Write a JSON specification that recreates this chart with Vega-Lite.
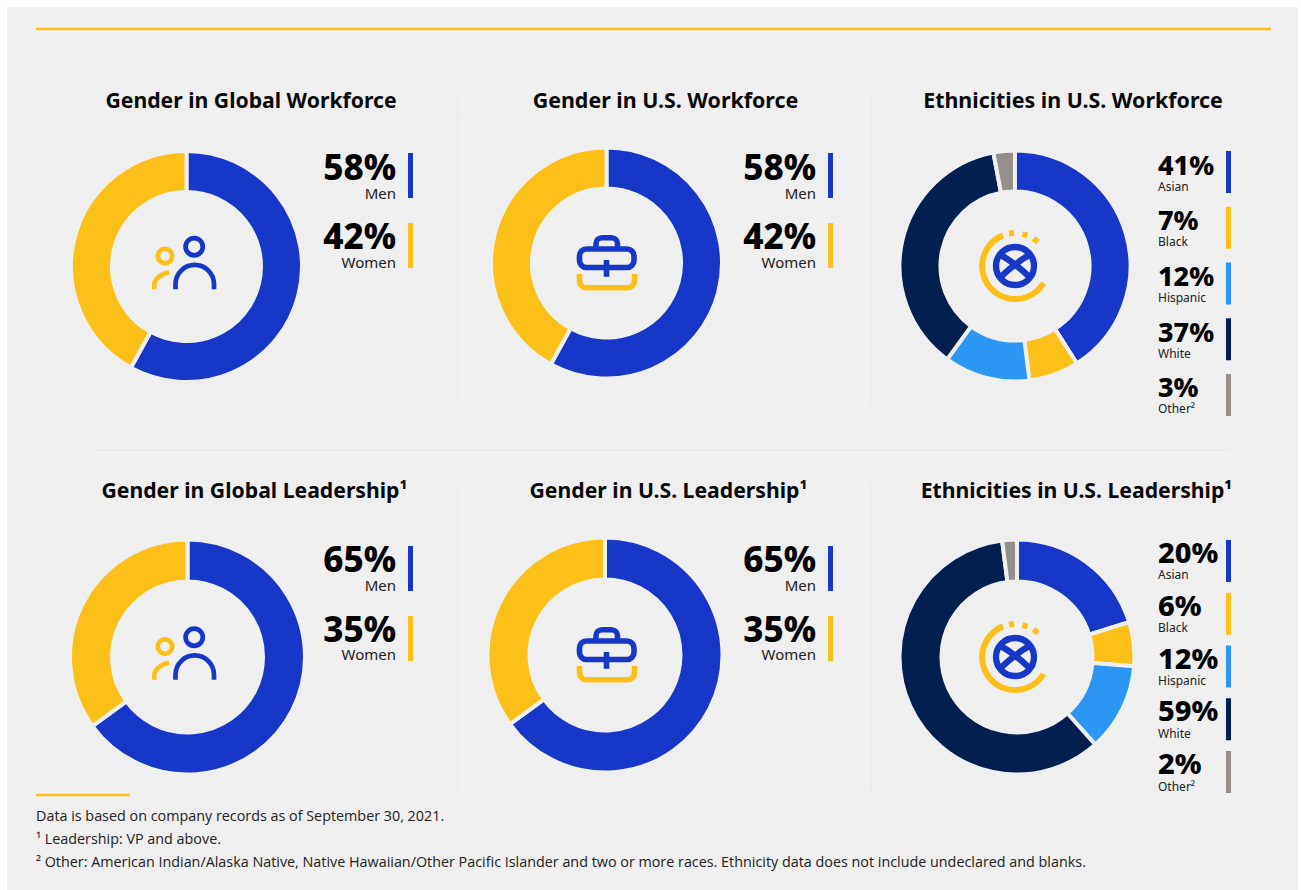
{"$schema":"https://vega.github.io/schema/vega-lite/v6.json","background":"#efefef","padding":0,"config":{"view":{"fill":null,"stroke":null},"text":{"font":"Noto Sans"}},
"datasets":{"slices":[
{"group":"gw","label":"Men","value":58,"pct":"58%","order":1},{"group":"gw","label":"Women","value":42,"pct":"42%","order":2},
{"group":"uw","label":"Men","value":58,"pct":"58%","order":1},{"group":"uw","label":"Women","value":42,"pct":"42%","order":2},
{"group":"ew","label":"Asian","value":41,"pct":"41%","order":1},{"group":"ew","label":"Black","value":7,"pct":"7%","order":2},{"group":"ew","label":"Hispanic","value":12,"pct":"12%","order":3},{"group":"ew","label":"White","value":37,"pct":"37%","order":4},{"group":"ew","label":"Other²","value":3,"pct":"3%","order":5},
{"group":"gl","label":"Men","value":65,"pct":"65%","order":1},{"group":"gl","label":"Women","value":35,"pct":"35%","order":2},
{"group":"ul","label":"Men","value":65,"pct":"65%","order":1},{"group":"ul","label":"Women","value":35,"pct":"35%","order":2},
{"group":"el","label":"Asian","value":20,"pct":"20%","order":1},{"group":"el","label":"Black","value":6,"pct":"6%","order":2},{"group":"el","label":"Hispanic","value":12,"pct":"12%","order":3},{"group":"el","label":"White","value":59,"pct":"59%","order":4},{"group":"el","label":"Other²","value":2,"pct":"2%","order":5}
],
"notes":[{"line":"a","note":"Data is based on company records as of September 30, 2021."},{"line":"b","note":"¹ Leadership: VP and above."},{"line":"c","note":"² Other: American Indian/Alaska Native, Native Hawaiian/Other Pacific Islander and two or more races. Ethnicity data does not include undeclared and blanks."}]},
"spacing":0,
"hconcat":[
{"width":7,"height":890,"data":{"values":[{}]},"mark":{"type":"rect","color":"#ffffff"},"encoding":{"x":{"datum":0,"type":"quantitative","axis":null,"scale":{"domain":[0,1]}},"x2":{"datum":1},"y":{"datum":0,"type":"quantitative","axis":null,"scale":{"domain":[0,1]}},"y2":{"datum":1}}},
{"spacing":0,"vconcat":[
{"width":1291,"height":7,"data":{"values":[{}]},"mark":{"type":"rect","color":"#ffffff"},"encoding":{"x":{"datum":0,"type":"quantitative","axis":null,"scale":{"domain":[0,1]}},"x2":{"datum":1},"y":{"datum":0,"type":"quantitative","axis":null,"scale":{"domain":[0,1]}},"y2":{"datum":1}}},
{"width":1291,"height":44,"data":{"values":[{}]},"mark":{"type":"rule","color":"#fdc018","strokeWidth":2.5},"encoding":{"x":{"datum":36,"type":"quantitative","axis":null,"scale":{"domain":[7,1298]}},"x2":{"datum":1271}}},
{"hconcat":[
{"width":452,"height":65,"layer":[{"data":{"values":[{"title":"Gender in Global Workforce"}]},"mark":{"type":"text","fontSize":21.2,"fontWeight":700,"color":"#0a0a0a","dx":18,"dy":18.5},"encoding":{"text":{"field":"title"}}},{"data":{"values":[{}]},"mark":{"type":"rule","color":"#e6e6e6"},"encoding":{"x":{"datum":0.998,"type":"quantitative","axis":null,"scale":{"domain":[0,1]}},"y":{"datum":92,"type":"quantitative","axis":null,"scale":{"domain":[51,116],"reverse":true}},"y2":{"datum":116}}}]},
{"width":413,"height":65,"layer":[{"data":{"values":[{"title":"Gender in U.S. Workforce"}]},"mark":{"type":"text","fontSize":21.4,"fontWeight":700,"color":"#0a0a0a","dx":0,"dy":18.5},"encoding":{"text":{"field":"title"}}},{"data":{"values":[{}]},"mark":{"type":"rule","color":"#e6e6e6"},"encoding":{"x":{"datum":0.998,"type":"quantitative","axis":null,"scale":{"domain":[0,1]}},"y":{"datum":92,"type":"quantitative","axis":null,"scale":{"domain":[51,116],"reverse":true}},"y2":{"datum":116}}}]},
{"width":426,"height":65,"data":{"values":[{"title":"Ethnicities in U.S. Workforce"}]},"mark":{"type":"text","fontSize":21.4,"fontWeight":700,"color":"#0a0a0a","dx":-12,"dy":18.5},"encoding":{"text":{"field":"title"}}}
],"spacing":0,"bounds":"flush"},
{"hconcat":[
{"width":359,"height":298,"layer":[
{"data":{"name":"slices"},"transform":[{"filter":"datum.group=='gw'"}],"mark":{"type":"arc","outerRadius":115.5,"innerRadius":74.5,"stroke":"#efefef","strokeWidth":4,"yOffset":-0.5},"encoding":{"theta":{"field":"value","type":"quantitative","stack":true},"order":{"field":"order"},"color":{"field":"label","type":"nominal","legend":null,"scale":{"domain":["Men","Women","Asian","Black","Hispanic","White","Other²"],"range":["#1737c9","#fdc018","#1737c9","#fdc018","#2c96f4","#031f4f","#958f8c"]}}}},
{"data":{"values":[{}]},"mark":{"type":"point","shape":"M-11,22.8V17.7A19.25,19.25 0 0 1 27.5,17.7V22.8M-0.9,-19.8A8.6,8.6 0 1 1 16.3,-19.8A8.6,8.6 0 1 1 -0.9,-19.8","size":4,"filled":false,"opacity":1,"stroke":"#1737c9","strokeWidth":4.7,"yOffset":-0.5},"encoding":{}},
{"data":{"values":[{}]},"mark":{"type":"point","shape":"M-32.3,22.8V19C-32.3,12 -25,7 -17.2,5.8M-28.7,-10.5A7.2,7.2 0 1 1 -14.3,-10.5A7.2,7.2 0 1 1 -28.7,-10.5","size":4,"filled":false,"opacity":1,"stroke":"#fdc018","strokeWidth":4.7,"yOffset":-0.5},"encoding":{}}
]},
{"width":42,"height":298,"data":{"name":"slices"},"transform":[{"filter":"datum.group=='gw'"}],"layer":[
{"mark":{"type":"text","align":"right","fontSize":35,"fontWeight":800,"color":"#000000","dx":9,"dy":-7},"encoding":{"y":{"field":"label","type":"nominal","axis":null,"sort":null,"scale":{"type":"band","range":[35,150],"paddingInner":0.357,"paddingOuter":0}},"text":{"field":"pct"}}},
{"mark":{"type":"text","align":"right","fontSize":15,"color":"#222222","dx":9,"dy":18},"encoding":{"y":{"field":"label","type":"nominal","axis":null,"sort":null,"scale":{"type":"band","range":[35,150],"paddingInner":0.357,"paddingOuter":0}},"text":{"field":"label"}}}
]},
{"width":5,"height":298,"data":{"name":"slices"},"transform":[{"filter":"datum.group=='gw'"}],"mark":"bar","encoding":{"y":{"field":"label","type":"nominal","axis":null,"sort":null,"scale":{"range":[35,150],"paddingInner":0.357,"paddingOuter":0}},"color":{"field":"label","type":"nominal","legend":null,"scale":{"domain":["Men","Women","Asian","Black","Hispanic","White","Other²"],"range":["#1737c9","#fdc018","#1737c9","#fdc018","#2c96f4","#031f4f","#958f8c"]}}}},
{"width":46,"height":298,"data":{"values":[{}]},"mark":{"type":"rule","color":"#e6e6e6"},"encoding":{"x":{"datum":0.978,"type":"quantitative","axis":null,"scale":{"domain":[0,1]}},"y":{"datum":118,"type":"quantitative","axis":null,"scale":{"domain":[118,416],"reverse":true}},"y2":{"datum":405}}},
{"width":295,"height":298,"layer":[
{"data":{"name":"slices"},"transform":[{"filter":"datum.group=='uw'"}],"mark":{"type":"arc","outerRadius":115.5,"innerRadius":74.5,"stroke":"#efefef","strokeWidth":4,"yOffset":-4},"encoding":{"theta":{"field":"value","type":"quantitative","stack":true},"order":{"field":"order"},"color":{"field":"label","type":"nominal","legend":null,"scale":{"domain":["Men","Women","Asian","Black","Hispanic","White","Other²"],"range":["#1737c9","#fdc018","#1737c9","#fdc018","#2c96f4","#031f4f","#958f8c"]}}}},
{"data":{"values":[{}]},"mark":{"type":"point","shape":"M-20,-14H20.5A7,7 0 0 1 27.5,-7V-2.5A7,7 0 0 1 20.5,4.5H-20A7,7 0 0 1 -27,-2.5V-7A7,7 0 0 1 -20,-14ZM-10.5,-14V-19.3A6,6 0 0 1 -4.5,-25.3H5A6,6 0 0 1 11,-19.3V-14M0,-3V13.7","size":4,"filled":false,"opacity":1,"stroke":"#1737c9","strokeWidth":5.6,"yOffset":-4},"encoding":{}},
{"data":{"values":[{}]},"mark":{"type":"point","shape":"M-27,11V17.7A7,7 0 0 0 -20,24.7H21A7,7 0 0 0 28,17.7V11","size":4,"filled":false,"opacity":1,"stroke":"#fdc018","strokeWidth":5.6,"yOffset":-4},"encoding":{}}
]},
{"width":74,"height":298,"data":{"name":"slices"},"transform":[{"filter":"datum.group=='uw'"}],"layer":[
{"mark":{"type":"text","align":"right","fontSize":35,"fontWeight":800,"color":"#000000","dx":25,"dy":-7},"encoding":{"y":{"field":"label","type":"nominal","axis":null,"sort":null,"scale":{"type":"band","range":[35,150],"paddingInner":0.357,"paddingOuter":0}},"text":{"field":"pct"}}},
{"mark":{"type":"text","align":"right","fontSize":15,"color":"#222222","dx":25,"dy":18},"encoding":{"y":{"field":"label","type":"nominal","axis":null,"sort":null,"scale":{"type":"band","range":[35,150],"paddingInner":0.357,"paddingOuter":0}},"text":{"field":"label"}}}
]},
{"width":5,"height":298,"data":{"name":"slices"},"transform":[{"filter":"datum.group=='uw'"}],"mark":"bar","encoding":{"y":{"field":"label","type":"nominal","axis":null,"sort":null,"scale":{"range":[35,150],"paddingInner":0.357,"paddingOuter":0}},"color":{"field":"label","type":"nominal","legend":null,"scale":{"domain":["Men","Women","Asian","Black","Hispanic","White","Other²"],"range":["#1737c9","#fdc018","#1737c9","#fdc018","#2c96f4","#031f4f","#958f8c"]}}}},
{"width":39,"height":298,"data":{"values":[{}]},"mark":{"type":"rule","color":"#e6e6e6"},"encoding":{"x":{"datum":0.974,"type":"quantitative","axis":null,"scale":{"domain":[0,1]}},"y":{"datum":118,"type":"quantitative","axis":null,"scale":{"domain":[118,416],"reverse":true}},"y2":{"datum":405}}},
{"width":286,"height":298,"layer":[
{"data":{"name":"slices"},"transform":[{"filter":"datum.group=='ew'"}],"mark":{"type":"arc","outerRadius":115.5,"innerRadius":74.5,"stroke":"#efefef","strokeWidth":4,"yOffset":-1},"encoding":{"theta":{"field":"value","type":"quantitative","stack":true},"order":{"field":"order"},"color":{"field":"label","type":"nominal","legend":null,"scale":{"domain":["Men","Women","Asian","Black","Hispanic","White","Other²"],"range":["#1737c9","#fdc018","#1737c9","#fdc018","#2c96f4","#031f4f","#958f8c"]}}}},
{"data":{"values":[{}]},"mark":{"type":"point","shape":"M-19,0A19,19 0 1 1 19,0A19,19 0 1 1 -19,0M-15,-11.5Q0,-3 15,11.5M15,-11.5Q0,-3 -15,11.5","size":4,"filled":false,"opacity":1,"stroke":"#1737c9","strokeWidth":6.3,"yOffset":-1},"encoding":{}},
{"data":{"values":[{}]},"mark":{"type":"point","shape":"M-12,-30.6A33,33 0 1 0 28.5,17M-6,-32.5L-1,-33M7.5,-32L12.5,-30.5M18.5,-27.5L23,-24","size":4,"filled":false,"opacity":1,"stroke":"#fdc018","strokeWidth":6,"yOffset":-1},"encoding":{}}
]},
{"width":68,"height":298,"data":{"name":"slices"},"transform":[{"filter":"datum.group=='ew'"}],"layer":[
{"mark":{"type":"text","align":"left","fontSize":27,"fontWeight":800,"color":"#000000","dx":-34,"dy":-5.5},"encoding":{"y":{"field":"label","type":"nominal","axis":null,"sort":null,"scale":{"type":"band","range":[33,298],"paddingInner":0.2466,"paddingOuter":0}},"text":{"field":"pct"}}},
{"mark":{"type":"text","align":"left","fontSize":12,"color":"#222222","dx":-34,"dy":14.5},"encoding":{"y":{"field":"label","type":"nominal","axis":null,"sort":null,"scale":{"type":"band","range":[33,298],"paddingInner":0.2466,"paddingOuter":0}},"text":{"field":"label"}}}
]},
{"width":5,"height":298,"data":{"name":"slices"},"transform":[{"filter":"datum.group=='ew'"}],"mark":"bar","encoding":{"y":{"field":"label","type":"nominal","axis":null,"sort":null,"scale":{"range":[33,298],"paddingInner":0.2466,"paddingOuter":0}},"color":{"field":"label","type":"nominal","legend":null,"scale":{"domain":["Men","Women","Asian","Black","Hispanic","White","Other²"],"range":["#1737c9","#fdc018","#1737c9","#fdc018","#2c96f4","#031f4f","#958f8c"]}}}},
{"width":67,"height":298,"data":{"values":[]},"mark":{"type":"rule"},"encoding":{}}
],"spacing":0,"bounds":"flush"},
{"width":1291,"height":54,"data":{"values":[{}]},"mark":{"type":"rule","color":"#e6e6e6"},"encoding":{"x":{"datum":92,"type":"quantitative","axis":null,"scale":{"domain":[7,1298]}},"x2":{"datum":1231},"y":{"datum":450,"type":"quantitative","axis":null,"scale":{"domain":[416,470],"reverse":true}}}},
{"hconcat":[
{"width":452,"height":51,"layer":[{"data":{"values":[{"title":"Gender in Global Leadership¹"}]},"mark":{"type":"text","fontSize":21.2,"fontWeight":700,"color":"#0a0a0a","dx":21.5,"dy":-3.5},"encoding":{"text":{"field":"title"}}},{"data":{"values":[{}]},"mark":{"type":"rule","color":"#e6e6e6"},"encoding":{"x":{"datum":0.998,"type":"quantitative","axis":null,"scale":{"domain":[0,1]}},"y":{"datum":483,"type":"quantitative","axis":null,"scale":{"domain":[470,521],"reverse":true}},"y2":{"datum":521}}}]},
{"width":413,"height":51,"layer":[{"data":{"values":[{"title":"Gender in U.S. Leadership¹"}]},"mark":{"type":"text","fontSize":21.2,"fontWeight":700,"color":"#0a0a0a","dx":3,"dy":-3.5},"encoding":{"text":{"field":"title"}}},{"data":{"values":[{}]},"mark":{"type":"rule","color":"#e6e6e6"},"encoding":{"x":{"datum":0.998,"type":"quantitative","axis":null,"scale":{"domain":[0,1]}},"y":{"datum":483,"type":"quantitative","axis":null,"scale":{"domain":[470,521],"reverse":true}},"y2":{"datum":521}}}]},
{"width":426,"height":51,"data":{"values":[{"title":"Ethnicities in U.S. Leadership¹"}]},"mark":{"type":"text","fontSize":21.2,"fontWeight":700,"color":"#0a0a0a","dx":-8.5,"dy":-3.5},"encoding":{"text":{"field":"title"}}}
],"spacing":0,"bounds":"flush"},
{"hconcat":[
{"width":361,"height":270,"layer":[
{"data":{"name":"slices"},"transform":[{"filter":"datum.group=='gl'"}],"mark":{"type":"arc","outerRadius":117.5,"innerRadius":75.5,"stroke":"#efefef","strokeWidth":4,"yOffset":-1},"encoding":{"theta":{"field":"value","type":"quantitative","stack":true},"order":{"field":"order"},"color":{"field":"label","type":"nominal","legend":null,"scale":{"domain":["Men","Women","Asian","Black","Hispanic","White","Other²"],"range":["#1737c9","#fdc018","#1737c9","#fdc018","#2c96f4","#031f4f","#958f8c"]}}}},
{"data":{"values":[{}]},"mark":{"type":"point","shape":"M-11,22.8V17.7A19.25,19.25 0 0 1 27.5,17.7V22.8M-0.9,-19.8A8.6,8.6 0 1 1 16.3,-19.8A8.6,8.6 0 1 1 -0.9,-19.8","size":4,"filled":false,"opacity":1,"stroke":"#1737c9","strokeWidth":4.7,"xOffset":-1,"yOffset":-1},"encoding":{}},
{"data":{"values":[{}]},"mark":{"type":"point","shape":"M-32.3,22.8V19C-32.3,12 -25,7 -17.2,5.8M-28.7,-10.5A7.2,7.2 0 1 1 -14.3,-10.5A7.2,7.2 0 1 1 -28.7,-10.5","size":4,"filled":false,"opacity":1,"stroke":"#fdc018","strokeWidth":4.7,"xOffset":-1,"yOffset":-1},"encoding":{}}
]},
{"width":40,"height":270,"data":{"name":"slices"},"transform":[{"filter":"datum.group=='gl'"}],"layer":[
{"mark":{"type":"text","align":"right","fontSize":35,"fontWeight":800,"color":"#000000","dx":8,"dy":-7.5},"encoding":{"y":{"field":"label","type":"nominal","axis":null,"sort":null,"scale":{"type":"band","range":[23,138],"paddingInner":0.357,"paddingOuter":0}},"text":{"field":"pct"}}},
{"mark":{"type":"text","align":"right","fontSize":15,"color":"#222222","dx":8,"dy":17},"encoding":{"y":{"field":"label","type":"nominal","axis":null,"sort":null,"scale":{"type":"band","range":[23,138],"paddingInner":0.357,"paddingOuter":0}},"text":{"field":"label"}}}
]},
{"width":5,"height":270,"data":{"name":"slices"},"transform":[{"filter":"datum.group=='gl'"}],"mark":"bar","encoding":{"y":{"field":"label","type":"nominal","axis":null,"sort":null,"scale":{"range":[23,138],"paddingInner":0.357,"paddingOuter":0}},"color":{"field":"label","type":"nominal","legend":null,"scale":{"domain":["Men","Women","Asian","Black","Hispanic","White","Other²"],"range":["#1737c9","#fdc018","#1737c9","#fdc018","#2c96f4","#031f4f","#958f8c"]}}}},
{"width":46,"height":270,"data":{"values":[{}]},"mark":{"type":"rule","color":"#e6e6e6"},"encoding":{"x":{"datum":0.978,"type":"quantitative","axis":null,"scale":{"domain":[0,1]}},"y":{"datum":523,"type":"quantitative","axis":null,"scale":{"domain":[523,793],"reverse":true}},"y2":{"datum":790}}},
{"width":292,"height":270,"layer":[
{"data":{"name":"slices"},"transform":[{"filter":"datum.group=='ul'"}],"mark":{"type":"arc","outerRadius":117.5,"innerRadius":75.5,"stroke":"#efefef","strokeWidth":4,"yOffset":-3},"encoding":{"theta":{"field":"value","type":"quantitative","stack":true},"order":{"field":"order"},"color":{"field":"label","type":"nominal","legend":null,"scale":{"domain":["Men","Women","Asian","Black","Hispanic","White","Other²"],"range":["#1737c9","#fdc018","#1737c9","#fdc018","#2c96f4","#031f4f","#958f8c"]}}}},
{"data":{"values":[{}]},"mark":{"type":"point","shape":"M-20,-14H20.5A7,7 0 0 1 27.5,-7V-2.5A7,7 0 0 1 20.5,4.5H-20A7,7 0 0 1 -27,-2.5V-7A7,7 0 0 1 -20,-14ZM-10.5,-14V-19.3A6,6 0 0 1 -4.5,-25.3H5A6,6 0 0 1 11,-19.3V-14M0,-3V13.7","size":4,"filled":false,"opacity":1,"stroke":"#1737c9","strokeWidth":5.6,"xOffset":1.5,"yOffset":-3},"encoding":{}},
{"data":{"values":[{}]},"mark":{"type":"point","shape":"M-27,11V17.7A7,7 0 0 0 -20,24.7H21A7,7 0 0 0 28,17.7V11","size":4,"filled":false,"opacity":1,"stroke":"#fdc018","strokeWidth":5.6,"xOffset":1.5,"yOffset":-3},"encoding":{}}
]},
{"width":77,"height":270,"data":{"name":"slices"},"transform":[{"filter":"datum.group=='ul'"}],"layer":[
{"mark":{"type":"text","align":"right","fontSize":35,"fontWeight":800,"color":"#000000","dx":26.5,"dy":-7.5},"encoding":{"y":{"field":"label","type":"nominal","axis":null,"sort":null,"scale":{"type":"band","range":[23,138],"paddingInner":0.357,"paddingOuter":0}},"text":{"field":"pct"}}},
{"mark":{"type":"text","align":"right","fontSize":15,"color":"#222222","dx":26.5,"dy":17},"encoding":{"y":{"field":"label","type":"nominal","axis":null,"sort":null,"scale":{"type":"band","range":[23,138],"paddingInner":0.357,"paddingOuter":0}},"text":{"field":"label"}}}
]},
{"width":5,"height":270,"data":{"name":"slices"},"transform":[{"filter":"datum.group=='ul'"}],"mark":"bar","encoding":{"y":{"field":"label","type":"nominal","axis":null,"sort":null,"scale":{"range":[23,138],"paddingInner":0.357,"paddingOuter":0}},"color":{"field":"label","type":"nominal","legend":null,"scale":{"domain":["Men","Women","Asian","Black","Hispanic","White","Other²"],"range":["#1737c9","#fdc018","#1737c9","#fdc018","#2c96f4","#031f4f","#958f8c"]}}}},
{"width":39,"height":270,"data":{"values":[{}]},"mark":{"type":"rule","color":"#e6e6e6"},"encoding":{"x":{"datum":0.974,"type":"quantitative","axis":null,"scale":{"domain":[0,1]}},"y":{"datum":523,"type":"quantitative","axis":null,"scale":{"domain":[523,793],"reverse":true}},"y2":{"datum":790}}},
{"width":290,"height":270,"layer":[
{"data":{"name":"slices"},"transform":[{"filter":"datum.group=='el'"}],"mark":{"type":"arc","outerRadius":117.5,"innerRadius":75.5,"stroke":"#efefef","strokeWidth":4,"yOffset":-1},"encoding":{"theta":{"field":"value","type":"quantitative","stack":true},"order":{"field":"order"},"color":{"field":"label","type":"nominal","legend":null,"scale":{"domain":["Men","Women","Asian","Black","Hispanic","White","Other²"],"range":["#1737c9","#fdc018","#1737c9","#fdc018","#2c96f4","#031f4f","#958f8c"]}}}},
{"data":{"values":[{}]},"mark":{"type":"point","shape":"M-19,0A19,19 0 1 1 19,0A19,19 0 1 1 -19,0M-15,-11.5Q0,-3 15,11.5M15,-11.5Q0,-3 -15,11.5","size":4,"filled":false,"opacity":1,"stroke":"#1737c9","strokeWidth":6.3,"xOffset":-2,"yOffset":-1},"encoding":{}},
{"data":{"values":[{}]},"mark":{"type":"point","shape":"M-12,-30.6A33,33 0 1 0 28.5,17M-6,-32.5L-1,-33M7.5,-32L12.5,-30.5M18.5,-27.5L23,-24","size":4,"filled":false,"opacity":1,"stroke":"#fdc018","strokeWidth":6,"xOffset":-2,"yOffset":-1},"encoding":{}}
]},
{"width":64,"height":270,"data":{"name":"slices"},"transform":[{"filter":"datum.group=='el'"}],"layer":[
{"mark":{"type":"text","align":"left","fontSize":29,"fontWeight":800,"color":"#000000","dx":-36,"dy":-7},"encoding":{"y":{"field":"label","type":"nominal","axis":null,"sort":null,"scale":{"type":"band","range":[17,270],"paddingInner":0.204,"paddingOuter":0}},"text":{"field":"pct"}}},
{"mark":{"type":"text","align":"left","fontSize":12,"color":"#222222","dx":-36,"dy":14.5},"encoding":{"y":{"field":"label","type":"nominal","axis":null,"sort":null,"scale":{"type":"band","range":[17,270],"paddingInner":0.204,"paddingOuter":0}},"text":{"field":"label"}}}
]},
{"width":5,"height":270,"data":{"name":"slices"},"transform":[{"filter":"datum.group=='el'"}],"mark":"bar","encoding":{"y":{"field":"label","type":"nominal","axis":null,"sort":null,"scale":{"range":[17,270],"paddingInner":0.204,"paddingOuter":0}},"color":{"field":"label","type":"nominal","legend":null,"scale":{"domain":["Men","Women","Asian","Black","Hispanic","White","Other²"],"range":["#1737c9","#fdc018","#1737c9","#fdc018","#2c96f4","#031f4f","#958f8c"]}}}},
{"width":67,"height":270,"data":{"values":[]},"mark":{"type":"rule"},"encoding":{}}
],"spacing":0,"bounds":"flush"},
{"width":1291,"height":4,"data":{"values":[{}]},"mark":{"type":"rule","color":"#fdc018","strokeWidth":2.5},"encoding":{"x":{"datum":36,"type":"quantitative","axis":null,"scale":{"domain":[7,1298]}},"x2":{"datum":130}}},
{"width":1291,"height":93,"data":{"name":"notes"},"mark":{"type":"text","align":"left","fontSize":14.35,"font":"Open Sans","color":"#222222"},"encoding":{"x":{"datum":36,"type":"quantitative","axis":null,"scale":{"domain":[7,1298]}},"y":{"field":"line","type":"nominal","axis":null,"scale":{"type":"point","range":[20,66],"padding":0}},"text":{"field":"note"}}}
]},
{"width":3,"height":890,"data":{"values":[{}]},"mark":{"type":"rect","color":"#ffffff"},"encoding":{"x":{"datum":0,"type":"quantitative","axis":null,"scale":{"domain":[0,1]}},"x2":{"datum":1},"y":{"datum":0,"type":"quantitative","axis":null,"scale":{"domain":[0,1]}},"y2":{"datum":1}}}
]}
